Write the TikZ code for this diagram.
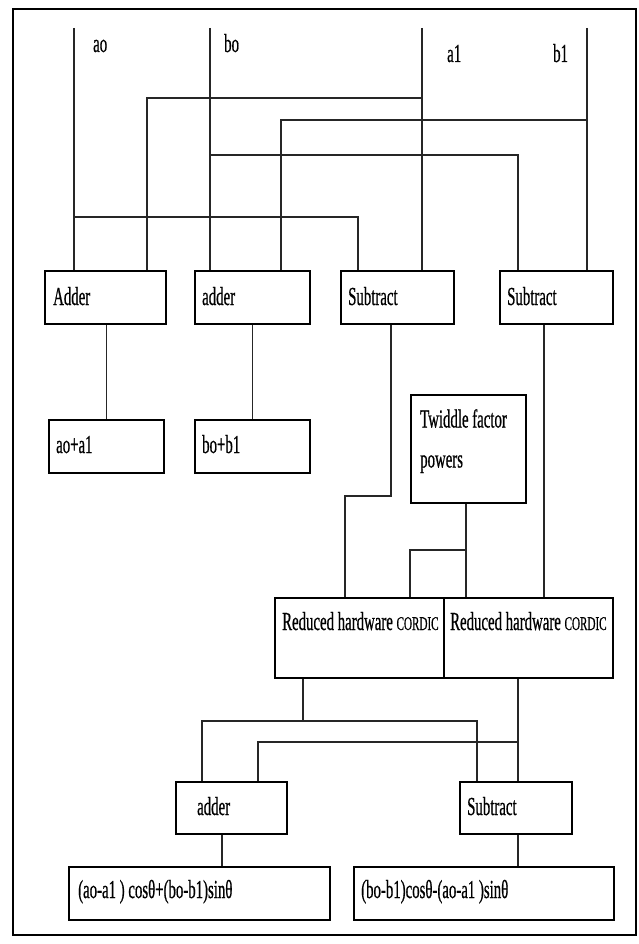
\documentclass[tikz,border=0pt]{standalone}
\usepackage{fontspec}
\setmainfont{Liberation Serif}[FakeStretch=0.57,FakeBold=0.6]
\begin{document}
\begin{tikzpicture}[x=1pt,y=-1pt,
  box/.style={draw=black, line width=1.8pt, rectangle, inner sep=0pt, anchor=north west},
  wire/.style={draw=black!85, line width=1.3pt},
  txt/.style={inner sep=0pt, anchor=base west, font=\fontsize{26}{40}\selectfont}]
\useasboundingbox (0,0) rectangle (638,944);
\draw[line width=2.8pt] (13,9) rectangle (636,935);
% boxes
\node[box, minimum width=121pt, minimum height=53pt] (add1) at (44,270) {};
\node[box, minimum width=115pt, minimum height=53pt] (add2) at (194,270) {};
\node[box, minimum width=113pt, minimum height=53pt] (sub1) at (340,270) {};
\node[box, minimum width=113pt, minimum height=53pt] (sub2) at (499,270) {};
\node[box, minimum width=115pt, minimum height=53pt] (sum1) at (48,419) {};
\node[box, minimum width=115pt, minimum height=53pt] (sum2) at (194,419) {};
\node[box, minimum width=115pt, minimum height=108pt] (tw) at (410,394) {};
\node[box, minimum width=169pt, minimum height=80pt] (cordL) at (274,597) {};
\node[box, minimum width=169pt, minimum height=80pt] (cordR) at (443,597) {};
\node[box, minimum width=111pt, minimum height=52pt] (addB) at (175,781) {};
\node[box, minimum width=112pt, minimum height=52pt] (subB) at (459,781) {};
\node[box, minimum width=261pt, minimum height=53pt] (outL) at (68,866) {};
\node[box, minimum width=260pt, minimum height=53pt] (outR) at (353,866) {};
% texts
\node[txt] (lao) at (93,52) {ao};
\node[txt] (lbo) at (224,52) {bo};
\node[txt] (la1) at (447,62) {a1};
\node[txt] (lb1) at (553,62) {b1};
\node[txt] (tadd1) at (53,305) {Adder};
\node[txt] (tadd2) at (202,305) {adder};
\node[txt] (tsub1) at (348,305) {Subtract};
\node[txt] (tsub2) at (507,305) {Subtract};
\node[txt] (tsum1) at (56,453) {ao+a1};
\node[txt] (tsum2) at (202,453) {bo+b1};
\node[txt, align=left, anchor=north west] (ttw) at (420,409) {Twiddle factor\\powers};
\node[txt] (tcL) at (282,630) {Reduced hardware {\fontsize{19.5}{20}\selectfont CORDIC}};
\node[txt] (tcR) at (450,630) {Reduced hardware {\fontsize{19.5}{20}\selectfont CORDIC}};
\node[txt] (taddB) at (197,815) {adder};
\node[txt] (tsubB) at (467,815) {Subtract};
\node[txt] (toutL) at (78,898) {(ao-a1 ) cosθ+(bo-b1)sinθ};
\node[txt] (toutR) at (361,898) {(bo-b1)cosθ-(ao-a1 )sinθ};
% input coordinates
\coordinate (ao) at (74,28);
\coordinate (bo) at (210,28);
\coordinate (a1) at (422,28);
\coordinate (b1) at (587,28);
% wires
\draw[wire] (ao) -- (ao |- add1.north);
\draw[wire] (bo) -- (bo |- add2.north);
\draw[wire] (a1) -- (a1 |- sub1.north);
\draw[wire] (b1) -- (b1 |- sub2.north);
\draw[wire] (a1 |- 0,98) -| (147,0 |- add1.north);
\draw[wire] (b1 |- 0,120) -| (281,0 |- add2.north);
\draw[wire] (bo |- 0,155) -| (518,0 |- sub2.north);
\draw[wire] (ao |- 0,217) -| (358,0 |- sub1.north);
\draw[wire] (sum1.north) -- (sum1.north |- add1.south);
\draw[wire] (sum2.north) -- (sum2.north |- add2.south);
\draw[wire] (391,0 |- sub1.south) |- (345,496) -- (345,0 |- cordL.north);
\draw[wire] (466,0 |- tw.south) -- (466,0 |- cordR.north);
\draw[wire] (466,550) -| (410,0 |- cordL.north);
\draw[wire] (544,0 |- sub2.south) -- (544,0 |- cordR.north);
\draw[wire] (303,0 |- cordL.south) -- (303,721);
\draw[wire] (202,0 |- addB.north) |- (477,721) -- (477,0 |- subB.north);
\draw[wire] (518,0 |- cordR.south) -- (518,0 |- subB.north);
\draw[wire] (518,742) -| (258,0 |- addB.north);
\draw[wire] (222,0 |- addB.south) -- (222,0 |- outL.north);
\draw[wire] (518,0 |- subB.south) -- (518,0 |- outR.north);
\end{tikzpicture}
\end{document}
